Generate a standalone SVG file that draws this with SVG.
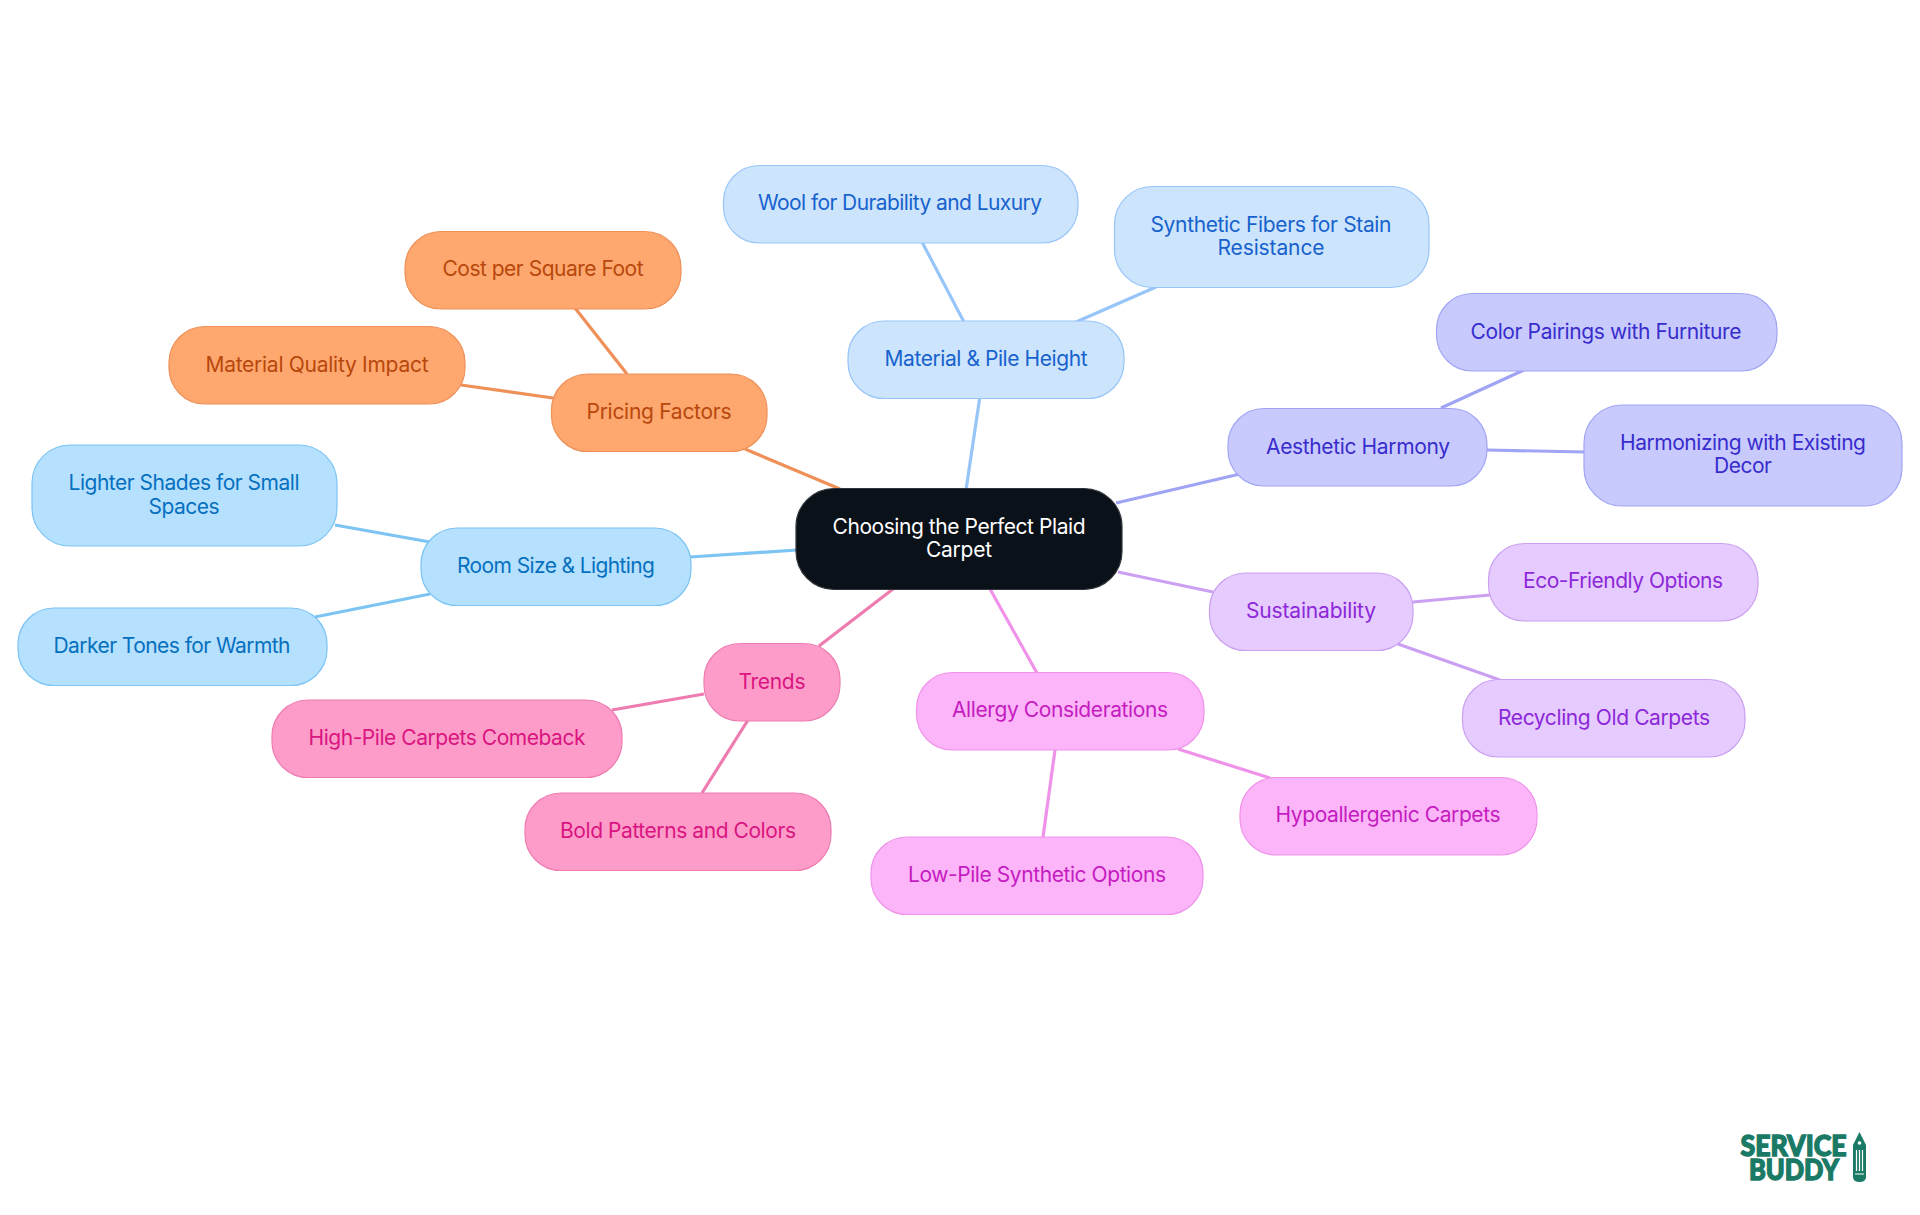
<svg xmlns="http://www.w3.org/2000/svg" width="1920" height="1215" viewBox="0 0 1920 1215">
<style>
text{font-family:"Inter","Noto Sans","Liberation Sans",sans-serif;font-size:21px;font-weight:400;text-anchor:middle}
rect{stroke-width:1.2}
line{stroke-width:3.2;fill:none}
.logo{font-family:"Lato","DejaVu Sans",sans-serif;font-weight:900;font-size:29px;fill:#1a7a66;stroke:#1a7a66;stroke-width:1.4}
.root rect{fill:#0b1119;stroke:#30353c}.root text{fill:#fff}
.sky rect{fill:#b5e0fe;stroke:#7cc4f4}.sky text{fill:#0670bf}.l-sky{stroke:#7cc4f4}
.blu rect{fill:#cde4fd;stroke:#97c5f8}.blu text{fill:#1762cd}.l-blu{stroke:#97c5f8}
.ind rect{fill:#c8cafe;stroke:#a0a4f4}.ind text{fill:#382ccc}.l-ind{stroke:#a0a4f4}
.pur rect{fill:#e6cbfe;stroke:#cba0f2}.pur text{fill:#8c28d8}.l-pur{stroke:#cba0f2}
.fuc rect{fill:#fdb5f9;stroke:#f092ea}.fuc text{fill:#c41cc0}.l-fuc{stroke:#f092ea}
.pnk rect{fill:#fe9cc9;stroke:#ee7cb0}.pnk text{fill:#da1480}.l-pnk{stroke:#ee7cb0}
.org rect{fill:#fea76e;stroke:#ee9058}.org text{fill:#b8480c}.l-org{stroke:#ee9058}
</style>
<g id="connectors">
<line class="l-blu" x1="966" y1="490" x2="980" y2="396"/>
<line class="l-blu" x1="964" y1="322" x2="922" y2="242"/>
<line class="l-blu" x1="1076" y1="322" x2="1156" y2="287"/>
<line class="l-ind" x1="1116" y1="503" x2="1240" y2="474"/>
<line class="l-ind" x1="1441" y1="408" x2="1524" y2="370"/>
<line class="l-ind" x1="1487" y1="450" x2="1585" y2="452"/>
<line class="l-pur" x1="1118" y1="572" x2="1213" y2="592"/>
<line class="l-pur" x1="1413" y1="602" x2="1490" y2="595"/>
<line class="l-pur" x1="1398" y1="644" x2="1500" y2="680"/>
<line class="l-fuc" x1="990" y1="589" x2="1037" y2="673"/>
<line class="l-fuc" x1="1178" y1="749" x2="1270" y2="778"/>
<line class="l-fuc" x1="1055" y1="750" x2="1043" y2="837"/>
<line class="l-pnk" x1="893" y1="589" x2="819" y2="646"/>
<line class="l-pnk" x1="704" y1="694" x2="612" y2="710"/>
<line class="l-pnk" x1="748" y1="720" x2="702" y2="793"/>
<line class="l-sky" x1="797" y1="550" x2="690" y2="557"/>
<line class="l-sky" x1="430" y1="542" x2="335" y2="525"/>
<line class="l-sky" x1="430" y1="594" x2="315" y2="617"/>
<line class="l-org" x1="840" y1="489" x2="745" y2="449"/>
<line class="l-org" x1="627" y1="374" x2="575" y2="308"/>
<line class="l-org" x1="553" y1="398" x2="461" y2="385"/>
</g>
<g id="root" class="root"><rect x="796" y="488.500" width="326" height="101" rx="38"/><text x="959" y="534" textLength="253">Choosing the Perfect Plaid</text><text x="959" y="557" textLength="66">Carpet</text></g>
<g id="material" class="blu"><rect x="848" y="321" width="276" height="77.500" rx="36"/><text x="986" y="366" textLength="203">Material &amp; Pile Height</text></g>
<g id="wool" class="blu"><rect x="723.500" y="165.500" width="354.500" height="77.500" rx="36"/><text x="900" y="210" textLength="284">Wool for Durability and Luxury</text></g>
<g id="synthetic" class="blu"><rect x="1114.500" y="186.500" width="314.500" height="101" rx="38"/><text x="1271" y="232" textLength="241">Synthetic Fibers for Stain</text><text x="1271" y="255" textLength="107">Resistance</text></g>
<g id="aesthetic" class="ind"><rect x="1228" y="408.500" width="259" height="77.500" rx="36"/><text x="1358" y="454" textLength="184">Aesthetic Harmony</text></g>
<g id="color" class="ind"><rect x="1436.500" y="293.500" width="340.500" height="77.500" rx="36"/><text x="1606" y="339" textLength="271">Color Pairings with Furniture</text></g>
<g id="harmonizing" class="ind"><rect x="1584" y="405" width="318" height="101" rx="38"/><text x="1743" y="450" textLength="246">Harmonizing with Existing</text><text x="1743" y="473" textLength="58">Decor</text></g>
<g id="sustainability" class="pur"><rect x="1209.500" y="573" width="203.500" height="77.500" rx="36"/><text x="1311" y="618" textLength="130">Sustainability</text></g>
<g id="eco" class="pur"><rect x="1488.500" y="543.500" width="269.500" height="77.500" rx="36"/><text x="1623" y="588" textLength="200">Eco-Friendly Options</text></g>
<g id="recycling" class="pur"><rect x="1462.500" y="679.500" width="282.500" height="77.500" rx="36"/><text x="1604" y="725" textLength="212">Recycling Old Carpets</text></g>
<g id="allergy" class="fuc"><rect x="916.500" y="672.500" width="287.500" height="77.500" rx="36"/><text x="1060" y="717" textLength="216">Allergy Considerations</text></g>
<g id="hypo" class="fuc"><rect x="1240" y="777.500" width="297" height="77.500" rx="36"/><text x="1388" y="822" textLength="225">Hypoallergenic Carpets</text></g>
<g id="low" class="fuc"><rect x="871" y="837" width="332" height="77.500" rx="36"/><text x="1037" y="882" textLength="258">Low-Pile Synthetic Options</text></g>
<g id="trends" class="pnk"><rect x="704" y="643.500" width="136" height="77.500" rx="36"/><text x="772" y="689" textLength="67">Trends</text></g>
<g id="high" class="pnk"><rect x="272" y="700" width="350" height="77.500" rx="36"/><text x="447" y="745" textLength="277">High-Pile Carpets Comeback</text></g>
<g id="bold" class="pnk"><rect x="525" y="793" width="306" height="77.500" rx="36"/><text x="678" y="838" textLength="236">Bold Patterns and Colors</text></g>
<g id="room" class="sky"><rect x="421" y="528" width="270" height="77.500" rx="36"/><text x="556" y="573" textLength="198">Room Size &amp; Lighting</text></g>
<g id="lighter" class="sky"><rect x="32" y="445" width="305" height="101" rx="38"/><text x="184" y="490" textLength="231">Lighter Shades for Small</text><text x="184" y="514" textLength="71">Spaces</text></g>
<g id="darker" class="sky"><rect x="18" y="608" width="309" height="77.500" rx="36"/><text x="172" y="653" textLength="237">Darker Tones for Warmth</text></g>
<g id="pricing" class="org"><rect x="551.500" y="374" width="215.500" height="77.500" rx="36"/><text x="659" y="419" textLength="145">Pricing Factors</text></g>
<g id="cost" class="org"><rect x="405" y="231.500" width="276" height="77.500" rx="36"/><text x="543" y="276" textLength="201">Cost per Square Foot</text></g>
<g id="quality" class="org"><rect x="169" y="326.500" width="296" height="77.500" rx="36"/><text x="317" y="372" textLength="223">Material Quality Impact</text></g>
<g id="logo">
<text class="logo" x="1793.500" y="1156" textLength="106" lengthAdjust="spacingAndGlyphs">SERVICE</text>
<text class="logo" x="1794" y="1180" textLength="90" lengthAdjust="spacingAndGlyphs">BUDDY</text>
<path d="M1859.500 1132L1866 1145V1177Q1866 1182 1859.500 1182Q1853 1182 1853 1177V1145Z" fill="#1a7a66"/>
<path d="M1856.500 1150V1171M1859.500 1150V1171M1862.500 1150V1171M1855 1174H1864" stroke="#fff" stroke-width="1.200" fill="none"/>
<circle cx="1859.500" cy="1143" r="1.800" fill="#fff"/>
</g>
</svg>
